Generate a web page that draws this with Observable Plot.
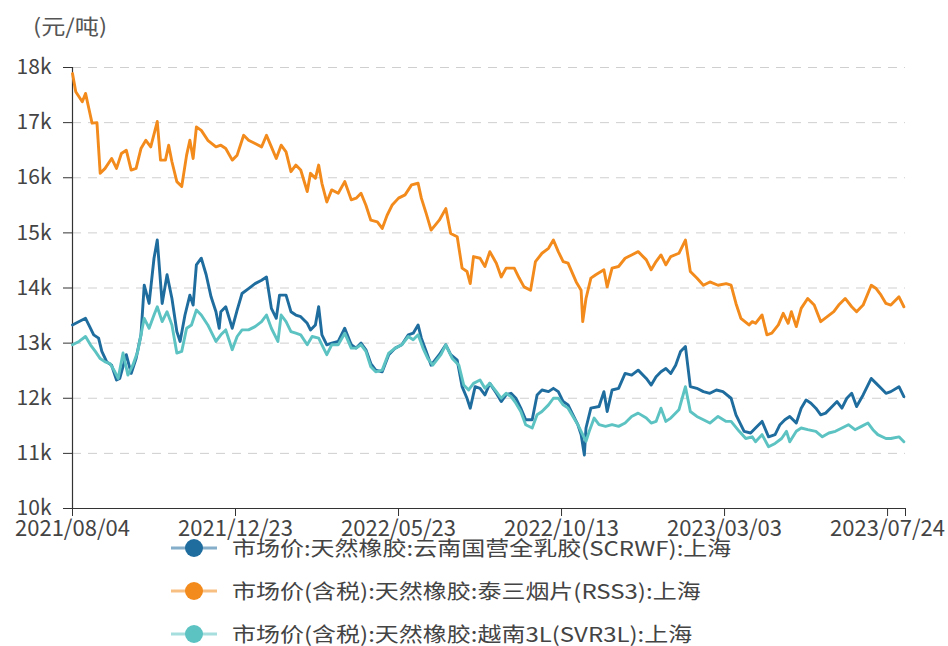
<!DOCTYPE html>
<html><head><meta charset="utf-8">
<script src="https://cdn.jsdelivr.net/npm/d3@7"></script>
<script src="https://cdn.jsdelivr.net/npm/@observablehq/plot@0.6"></script>
<style>
body{margin:0;background:#fff;font-family:"Noto Sans CJK SC","Noto Sans",sans-serif;}
#wrap{position:relative;width:948px;height:646px;overflow:hidden;background:#fff;}
#chart{position:absolute;left:0;top:0;}
#unit{position:absolute;left:33px;top:10px;font-size:21px;color:#555;transform:scaleX(1.15);transform-origin:left center;}
#legend{position:absolute;left:171px;top:526px;}
.row{height:43px;display:flex;align-items:center;font-size:20.5px;line-height:1;color:#444;white-space:nowrap;}
.row svg{margin-right:15px;flex:none}
.row span{display:inline-block;transform:scaleX(1.17);transform-origin:left center;}
</style></head>
<body><div id="wrap"><div id="chart"></div><div id="unit">(元/吨)</div><div id="legend"></div></div>
<script>
// x = trading-day index; labels every 100 trading days
const tickDays = [0, 100, 200, 300, 400, 500];
const tickLabels = ["2021/08/04", "2021/12/23", "2022/05/23", "2022/10/13", "2023/03/03", "2023/07/24"];
const yTicks = [10000, 11000, 12000, 13000, 14000, 15000, 16000, 17000, 18000];
const seriesNames = [
  "市场价:天然橡胶:云南国营全乳胶(SCRWF):上海",
  "市场价(含税):天然橡胶:泰三烟片(RSS3):上海",
  "市场价(含税):天然橡胶:越南3L(SVR3L):上海"
];
const seriesColors = ["#1f6c9e", "#f28a1c", "#5cc2c2"];

const scrwf = [[0,13330],[2,13360],[8,13450],[10,13330],[13,13150],[16,13090],[18,12850],[21,12660],[24,12600],[27,12330],[29,12360],[33,12790],[36,12450],[39,12720],[42,13150],[44,14050],[47,13720],[50,14540],[52,14870],[55,13720],[58,14240],[61,13810],[64,13210],[66,13030],[69,13510],[72,13870],[74,13690],[76,14420],[79,14540],[82,14240],[85,13840],[88,13570],[90,13270],[91,13570],[94,13660],[98,13270],[101,13600],[104,13900],[108,13990],[112,14080],[116,14140],[119,14200],[122,13630],[125,13450],[127,13870],[131,13870],[134,13570],[137,13510],[140,13480],[144,13360],[146,13240],[149,13330],[151,13660],[153,13150],[156,12970],[159,13000],[163,13030],[167,13270],[171,12970],[174,12910],[177,13000],[180,12880],[183,12630],[186,12510],[190,12480],[194,12790],[198,12910],[202,12970],[206,13150],[209,13180],[212,13330],[214,13090],[217,12850],[220,12600],[225,12790],[229,12970],[232,12790],[236,12690],[239,12210],[242,12000],[244,11820],[247,12210],[250,12180],[253,12060],[256,12270],[260,12090],[263,11940],[266,12060],[269,12090],[272,12000],[275,11820],[278,11610],[282,11610],[285,12060],[288,12150],[292,12120],[295,12180],[298,12120],[301,11940],[304,11880],[307,11700],[310,11520],[312,11340],[314,10970],[315,11460],[318,11820],[323,11850],[326,12120],[328,11760],[331,12150],[335,12180],[339,12450],[343,12420],[347,12510],[352,12360],[355,12240],[358,12390],[361,12480],[364,12540],[367,12450],[370,12600],[373,12850],[376,12940],[379,12210],[383,12180],[387,12120],[391,12090],[395,12150],[399,12120],[404,12000],[407,11700],[412,11400],[416,11370],[419,11460],[423,11580],[427,11300],[431,11340],[434,11520],[437,11610],[440,11670],[444,11550],[447,11820],[450,11970],[453,11910],[456,11820],[459,11700],[462,11730],[466,11850],[469,11940],[472,11820],[475,12000],[478,12090],[481,11850],[485,12060],[490,12360],[493,12270],[496,12180],[499,12090],[502,12120],[507,12210],[510,12030]];

const rss3 = [[0,17890],[2,17560],[6,17380],[8,17530],[10,17260],[12,16990],[15,17000],[17,16080],[20,16170],[24,16350],[27,16170],[30,16440],[33,16500],[36,16140],[39,16170],[42,16530],[45,16680],[48,16560],[52,17020],[54,16320],[57,16320],[59,16590],[61,16290],[64,15930],[67,15840],[70,16410],[72,16680],[74,16350],[76,16920],[79,16860],[83,16680],[88,16560],[91,16590],[94,16530],[98,16320],[101,16410],[105,16770],[108,16680],[112,16620],[116,16560],[119,16770],[122,16560],[125,16350],[128,16590],[131,16470],[134,16110],[137,16230],[140,16140],[144,15750],[146,16080],[149,15990],[151,16230],[153,15900],[156,15560],[159,15780],[163,15720],[167,15930],[171,15600],[174,15630],[177,15720],[180,15500],[183,15230],[187,15200],[190,15080],[193,15320],[196,15500],[200,15630],[204,15690],[208,15870],[212,15900],[214,15630],[217,15350],[220,15050],[225,15230],[229,15440],[232,14990],[236,14930],[239,14360],[242,14300],[244,14080],[246,14570],[250,14540],[253,14390],[256,14660],[260,14450],[263,14200],[266,14360],[271,14360],[274,14180],[277,14020],[281,13960],[284,14480],[288,14630],[292,14720],[295,14870],[298,14660],[301,14480],[304,14450],[309,14110],[312,13960],[313,13390],[315,13810],[318,14180],[321,14240],[326,14330],[328,14020],[331,14360],[335,14390],[339,14540],[343,14600],[347,14660],[352,14510],[355,14330],[358,14480],[361,14600],[364,14420],[367,14570],[372,14630],[376,14870],[379,14300],[383,14180],[387,14050],[391,14110],[396,14050],[401,14080],[404,14050],[407,13720],[410,13450],[415,13330],[417,13390],[419,13360],[423,13510],[426,13150],[429,13180],[433,13330],[436,13540],[439,13360],[441,13570],[444,13300],[447,13630],[451,13810],[455,13690],[459,13390],[463,13480],[467,13570],[470,13690],[474,13810],[478,13660],[481,13570],[485,13690],[490,14050],[493,13990],[496,13870],[499,13720],[502,13690],[507,13840],[510,13660]];

const svr3l = [[0,12970],[4,13030],[8,13120],[11,12970],[14,12850],[17,12720],[20,12660],[23,12630],[26,12480],[28,12360],[31,12820],[34,12420],[37,12600],[40,12850],[44,13450],[47,13270],[50,13510],[52,13660],[55,13390],[58,13570],[61,13330],[64,12820],[67,12850],[70,13270],[73,13330],[76,13600],[79,13510],[83,13330],[88,13030],[91,13150],[94,13240],[98,12880],[101,13120],[104,13240],[108,13240],[112,13300],[116,13390],[119,13510],[122,13270],[126,13030],[128,13510],[131,13390],[134,13210],[137,13180],[140,13150],[144,12970],[147,13120],[151,13090],[154,12910],[156,12790],[159,12970],[163,12970],[167,13180],[171,12910],[174,12910],[177,12970],[180,12850],[183,12570],[186,12480],[190,12510],[194,12820],[198,12910],[202,12970],[206,13120],[209,13060],[212,13150],[215,12910],[218,12720],[221,12600],[226,12790],[229,12970],[233,12720],[237,12600],[240,12240],[243,12150],[246,12270],[250,12330],[253,12180],[256,12270],[260,12120],[263,12000],[266,12090],[269,12030],[272,11910],[275,11760],[278,11520],[282,11460],[285,11700],[288,11760],[292,11880],[295,12000],[298,12000],[301,11880],[304,11820],[307,11670],[310,11520],[312,11400],[315,11220],[317,11400],[320,11640],[323,11520],[327,11490],[331,11520],[335,11490],[339,11550],[343,11670],[347,11730],[352,11640],[355,11550],[358,11580],[361,11820],[364,11580],[367,11640],[372,11790],[374,12000],[376,12210],[379,11760],[383,11670],[387,11610],[391,11550],[396,11670],[401,11580],[404,11580],[409,11400],[413,11270],[417,11300],[419,11210],[423,11340],[427,11120],[431,11180],[435,11270],[438,11400],[440,11210],[444,11400],[447,11460],[451,11430],[456,11400],[460,11300],[464,11370],[468,11400],[472,11460],[476,11520],[480,11430],[484,11490],[488,11550],[491,11430],[494,11340],[499,11270],[502,11270],[507,11300],[510,11210]];

const seriesData = [scrwf, rss3, svr3l];
const rows = seriesData.flatMap((s, i) => s.map(([day, value]) => ({series: seriesNames[i], day, value})));
const font = '"Noto Sans CJK SC","Noto Sans",sans-serif';

const chart = Plot.plot({
  width: 948, height: 548,
  marginLeft: 72, marginRight: 43, marginTop: 67, marginBottom: 40,
  style: {fontFamily: font, background: "#fff", overflow: "visible"},
  x: {type: "linear", domain: [0, 511]},
  y: {domain: [10000, 18000]},
  color: {domain: seriesNames, range: seriesColors},
  marks: [
    Plot.gridY(yTicks.filter(d => d > 10000), {stroke: "#cfcfcf", strokeOpacity: 1, strokeDasharray: "9,7"}),
    Plot.axisY({ticks: yTicks, tickFormat: d => d / 1000 + "k", tickSize: 9, tickPadding: 12, fontSize: 21, fill: "#444", stroke: "#333", label: null}),
    Plot.axisX({ticks: [...tickDays, 511], tickFormat: d => { const i = tickDays.indexOf(d); return i < 0 ? "" : tickLabels[i]; }, tickSize: 8, tickPadding: 4, fontSize: 22, fill: "#444", stroke: "#333", label: null}),
    Plot.ruleY([10000], {stroke: "#333", strokeWidth: 1.2}),
    Plot.ruleX([0], {stroke: "#333", strokeWidth: 1.2}),
    Plot.line(rows, {x: "day", y: "value", z: "series", stroke: "series", strokeWidth: 2.9, strokeLinejoin: "round"})
  ]
});
document.getElementById("chart").appendChild(chart);

const legend = document.getElementById("legend");
seriesNames.forEach((name, i) => {
  const row = document.createElement("div");
  row.className = "row";
  row.innerHTML = `<svg width="46" height="22"><line x1="0" y1="11" x2="46" y2="11" stroke="${seriesColors[i]}" stroke-opacity="0.55" stroke-width="3"/><circle cx="23" cy="11" r="9" fill="${seriesColors[i]}"/></svg><span>${name}</span>`;
  legend.appendChild(row);
});
</script>
</body></html>
